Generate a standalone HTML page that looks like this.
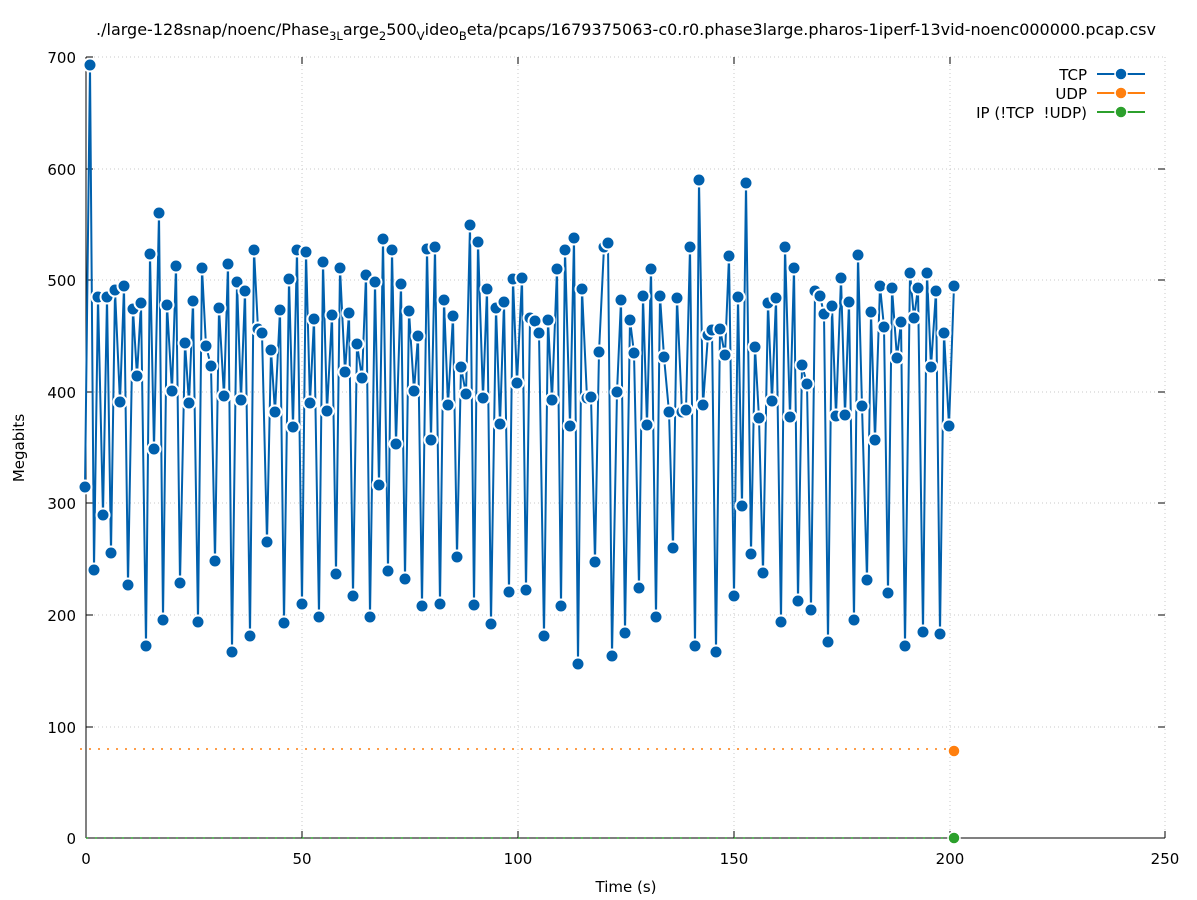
<!DOCTYPE html>
<html><head><meta charset="utf-8"><style>body{margin:0;background:#fff}svg{display:block}text{font-family:"DejaVu Sans","Liberation Sans",sans-serif;font-size:15px;fill:#000}</style></head>
<body>
<svg width="1197" height="900" viewBox="0 0 1197 900" xmlns="http://www.w3.org/2000/svg">
<g stroke="#c8c8c8" stroke-dasharray="1,3" stroke-width="1">
<line x1="302" y1="57" x2="302" y2="838"/><line x1="518" y1="57" x2="518" y2="838"/><line x1="734" y1="57" x2="734" y2="838"/><line x1="950" y1="57" x2="950" y2="838"/><line x1="1165" y1="57" x2="1165" y2="838"/>
<line x1="86" y1="57" x2="1165" y2="57"/><line x1="86" y1="169" x2="1165" y2="169"/><line x1="86" y1="280" x2="1165" y2="280"/><line x1="86" y1="392" x2="1165" y2="392"/><line x1="86" y1="503" x2="1165" y2="503"/><line x1="86" y1="615" x2="1165" y2="615"/><line x1="86" y1="727" x2="1165" y2="727"/>
</g>
<g stroke="#000" stroke-width="1">
<line x1="86" y1="57" x2="86" y2="838"/><line x1="86" y1="838" x2="1165" y2="838"/>
<line x1="86" y1="57" x2="93" y2="57"/><line x1="86" y1="169" x2="93" y2="169"/><line x1="86" y1="280" x2="93" y2="280"/><line x1="86" y1="392" x2="93" y2="392"/><line x1="86" y1="503" x2="93" y2="503"/><line x1="86" y1="615" x2="93" y2="615"/><line x1="86" y1="727" x2="93" y2="727"/>
<line x1="1158" y1="169" x2="1165" y2="169"/><line x1="1158" y1="280" x2="1165" y2="280"/><line x1="1158" y1="392" x2="1165" y2="392"/><line x1="1158" y1="503" x2="1165" y2="503"/><line x1="1158" y1="615" x2="1165" y2="615"/><line x1="1158" y1="727" x2="1165" y2="727"/><line x1="1158" y1="838" x2="1165" y2="838"/>
<line x1="302" y1="838" x2="302" y2="831"/><line x1="518" y1="838" x2="518" y2="831"/><line x1="734" y1="838" x2="734" y2="831"/><line x1="950" y1="838" x2="950" y2="831"/><line x1="1165" y1="838" x2="1165" y2="831"/>
<line x1="302" y1="57" x2="302" y2="64"/><line x1="518" y1="57" x2="518" y2="64"/><line x1="734" y1="57" x2="734" y2="64"/><line x1="950" y1="57" x2="950" y2="64"/>
</g>
<g text-anchor="end">
<text x="76" y="63">700</text><text x="76" y="175">600</text><text x="76" y="286">500</text><text x="76" y="398">400</text><text x="76" y="509">300</text><text x="76" y="621">200</text><text x="76" y="733">100</text><text x="76" y="844">0</text>
</g>
<g text-anchor="middle">
<text x="86" y="864">0</text><text x="302" y="864">50</text><text x="518" y="864">100</text><text x="734" y="864">150</text><text x="950" y="864">200</text><text x="1165" y="864">250</text>
<text x="626" y="892">Time (s)</text>
<text x="24" y="448" transform="rotate(-90 24 448)">Megabits</text>
<text x="626" y="35" style="font-size:16px">./large-128snap/noenc/Phase<tspan font-size="11.5" dy="5">3L</tspan><tspan dy="-5">arge</tspan><tspan font-size="11.5" dy="5">2</tspan><tspan dy="-5">500</tspan><tspan font-size="11.5" dy="5">V</tspan><tspan dy="-5">ideo</tspan><tspan font-size="11.5" dy="5">B</tspan><tspan dy="-5">eta/pcaps/1679375063-c0.r0.phase3large.pharos-1iperf-13vid-noenc000000.pcap.csv</tspan></text>
</g>
<line x1="80" y1="749" x2="954" y2="749" stroke="#ff7f0e" stroke-width="1.5" stroke-dasharray="2,7"/>
<line x1="86" y1="838" x2="954" y2="838" stroke="#2ca02c" stroke-width="1.5" stroke-dasharray="2,7"/>
<polyline id="tcp" fill="none" stroke="#0060ad" stroke-width="2" points="85,487 90,65 94,570 98,297 103,515 107,297 111,553 115,290 120,402 124,286 128,585 133,309 137,376 141,303 146,646 150,254 154,449 159,213 163,620 167,305 172,391 176,266 180,583 185,343 189,403 193,301 198,622 202,268 206,346 211,366 215,561 219,308 224,396 228,264 232,652 237,282 241,400 245,291 250,636 254,250 258,329 262,333 267,542 271,350 275,412 280,310 284,623 289,279 293,427 297,250 302,604 306,252 310,403 314,319 319,617 323,262 327,411 332,315 336,574 340,268 345,372 349,313 353,596 357,344 362,378 366,275 370,617 375,282 379,485 383,239 388,571 392,250 396,444 401,284 405,579 409,311 414,391 418,336 422,606 427,249 431,440 435,247 440,604 444,300 448,405 453,316 457,557 461,367 466,394 470,225 474,605 478,242 483,398 487,289 491,624 496,308 500,424 504,302 509,592 513,279 517,383 522,278 526,590 530,318 535,321 539,333 544,636 548,320 552,400 557,269 561,606 565,250 570,426 574,238 578,664 582,289 587,398 591,397 595,562 599,352 604,247 608,243 612,656 617,392 621,300 625,633 630,320 634,353 639,588 643,296 647,425 651,269 656,617 660,296 664,357 669,412 673,548 677,298 682,412 686,410 690,247 695,646 699,180 703,405 708,335 712,330 716,652 720,329 725,355 729,256 734,596 738,297 742,506 746,183 751,554 755,347 759,418 763,573 768,303 772,401 776,298 781,622 785,247 790,417 794,268 798,601 802,365 807,384 811,610 815,291 820,296 824,314 828,642 832,306 836,416 841,278 845,415 849,302 854,620 858,255 862,406 867,580 871,312 875,440 880,286 884,327 888,593 892,288 897,358 901,322 905,646 910,273 914,318 918,288 923,632 927,273 931,367 936,291 940,634 944,333 949,426 954,286"/>
<g id="dots"></g>
<circle cx="954" cy="751" r="6" fill="#ff7f0e" stroke="#fff" stroke-width="1.5"/>
<circle cx="954" cy="838" r="6" fill="#2ca02c" stroke="#fff" stroke-width="1.5"/>
<g text-anchor="end"><text x="1087" y="80">TCP</text><text x="1087" y="99">UDP</text><text x="1087" y="118">IP (!TCP&#160; !UDP)</text></g>
<line x1="1097" y1="74" x2="1145" y2="74" stroke="#0060ad" stroke-width="2"/><circle cx="1121" cy="74" r="6" fill="#0060ad" stroke="#fff" stroke-width="1.5"/>
<line x1="1097" y1="93" x2="1145" y2="93" stroke="#ff7f0e" stroke-width="2"/><circle cx="1121" cy="93" r="6" fill="#ff7f0e" stroke="#fff" stroke-width="1.5"/>
<line x1="1097" y1="112" x2="1145" y2="112" stroke="#2ca02c" stroke-width="2"/><circle cx="1121" cy="112" r="6" fill="#2ca02c" stroke="#fff" stroke-width="1.5"/>
</svg>
<script>
var p=document.getElementById('tcp').getAttribute('points').trim().split(/\s+/),g=document.getElementById('dots'),s='';
p.forEach(function(q){var a=q.split(',');s+='<circle cx="'+a[0]+'" cy="'+a[1]+'" r="6.5" fill="#0060ad" stroke="#fff" stroke-width="2"/>';});
g.innerHTML=s;
</script>
</body></html>
